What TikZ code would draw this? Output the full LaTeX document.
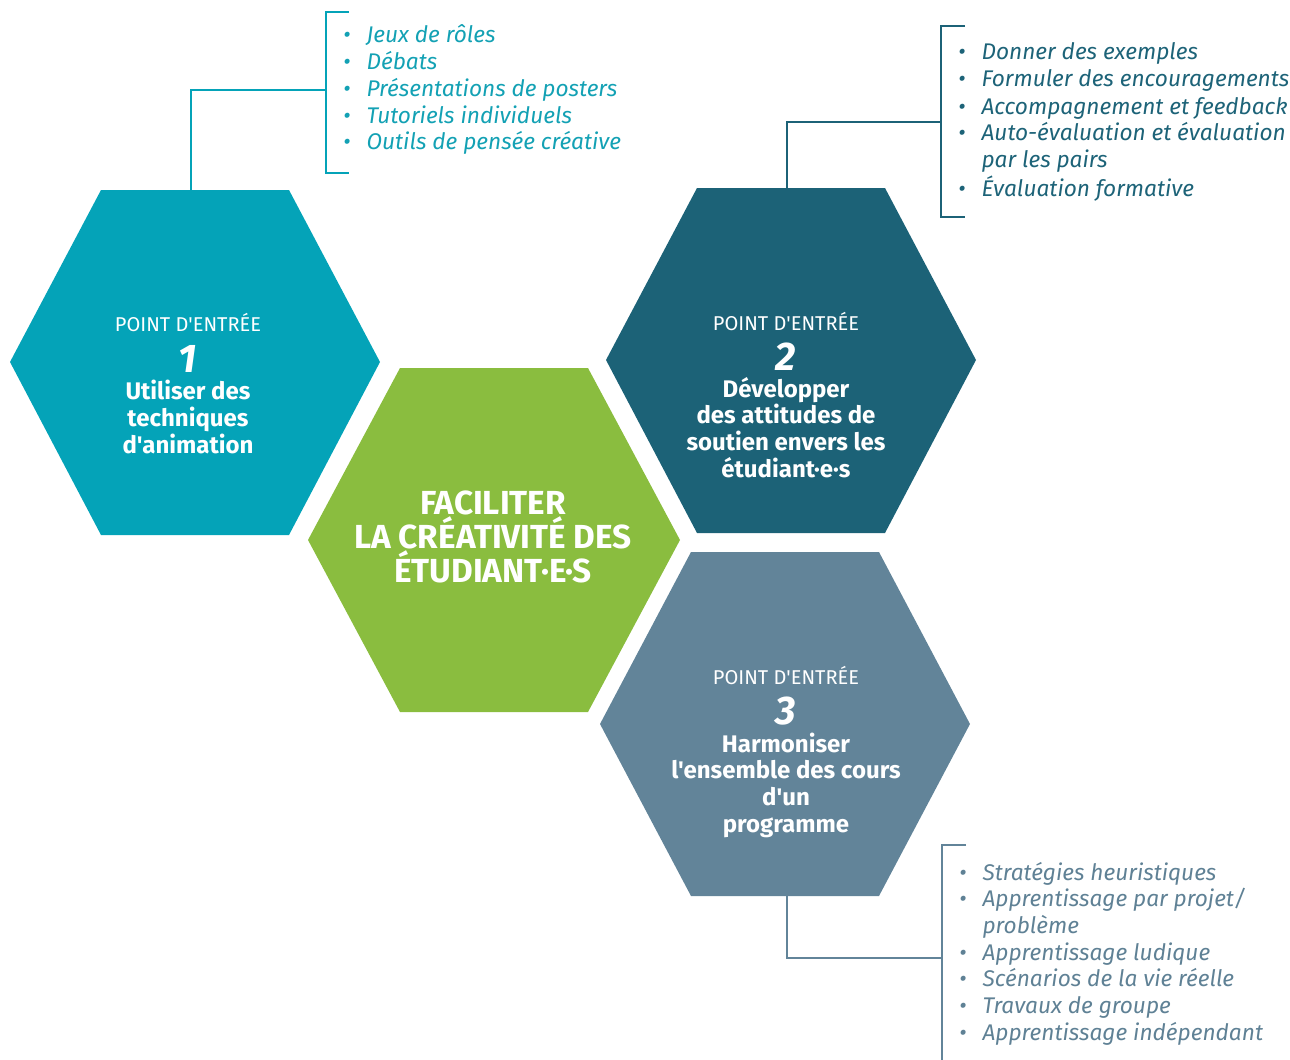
\documentclass[tikz,border=0pt]{standalone}
\usepackage{fontspec}
\setmainfont{Fira Sans}
\newfontfamily\hexfont{Fira Sans}
\definecolor{hexA}{HTML}{04A3B8}
\definecolor{hexB}{HTML}{1C6277}
\definecolor{hexG}{HTML}{8ABD3F}
\definecolor{hexC}{HTML}{628499}
\definecolor{txtA}{HTML}{13A1B4}
\definecolor{txtB}{HTML}{1D6378}
\definecolor{txtC}{HTML}{5F8195}
\begin{document}
\begin{tikzpicture}[x=0.75pt,y=-0.75pt,
  conn/.style={line width=1.7pt},
  lbl/.style={inner sep=0pt, text=white, font=\hexfont\fontsize{15}{18}\selectfont, anchor=base},
  num/.style={inner sep=0pt, text=white, font=\hexfont\bfseries\itshape\fontsize{30}{30}\selectfont, anchor=base},
  maintxt/.style={inner sep=0pt, text=white, align=center, font=\hexfont\bfseries\fontsize{18}{19.9}\selectfont, anchor=base},
  listtxt/.style={inner sep=0pt, anchor=base west, font=\itshape\fontsize{17}{20.25}\selectfont}]
\useasboundingbox (0,0) rectangle (1290,1060);

% hexagons
\fill[hexA] (101,190) -- (289,190) -- (380,362) -- (289,535) -- (101,535) -- (10,362) -- cycle;
\fill[hexB] (697,188) -- (885,188) -- (976,360) -- (885,533) -- (697,533) -- (606,360) -- cycle;
\fill[hexG] (400,368) -- (588,368) -- (680,540) -- (588,712) -- (400,712) -- (308,540) -- cycle;
\fill[hexC] (691,552) -- (879,552) -- (970,724) -- (879,896) -- (691,896) -- (600,724) -- cycle;

% hexagon texts (multi-line nodes are placed by their last baseline)
\node[lbl] (p1) at (188,331) {POINT D'ENTRÉE};
\node[num] (n1) at (188,372) {1};
\node[maintxt] (t1) at (188,453) {Utiliser des\\techniques\\d'animation};

\node[lbl] (p2) at (786,330) {POINT D'ENTRÉE};
\node[num] (n2) at (786,370) {2};
\node[maintxt] (t2) at (786,477) {Développer\\des attitudes de\\soutien envers les\\étudiant·e·s};

\node[inner sep=0pt, text=white, align=center, anchor=base,
      font=\hexfont\bfseries\fontsize{25}{25.5}\selectfont] (c) at (493,582)
      {FACILITER\\LA CRÉATIVITÉ DES\\ÉTUDIANT·E·S};

\node[lbl] (p3) at (786,684) {POINT D'ENTRÉE};
\node[num] (n3) at (786,724) {3};
\node[maintxt] (t3) at (786,832) {Harmoniser\\l'ensemble des cours\\d'un\\programme};

% lists
\node[listtxt, text=txtA] (L1) at (343,42) {\begin{tabular}[t]{@{}p{17.5pt}@{}l@{}}
•&Jeux de rôles\\
•&Débats\\
•&Présentations de posters\\
•&Tutoriels individuels\\
•&Outils de pensée créative
\end{tabular}};

\node[listtxt, text=txtB] (L2) at (958,60) {\begin{tabular}[t]{@{}p{17.5pt}@{}l@{}}
•&Donner des exemples\\
•&Formuler des encouragements\\
•&Accompagnement et feedback\\
•&Auto-évaluation et évaluation\\
&par les pairs\\
•&Évaluation formative
\end{tabular}};

\node[listtxt, text=txtC, font=\itshape\fontsize{17}{20}\selectfont] (L3) at (959,880) {\begin{tabular}[t]{@{}p{17.5pt}@{}l@{}}
•&Stratégies heuristiques\\
•&Apprentissage par projet/\\
&problème\\
•&Apprentissage ludique\\
•&Scénarios de la vie réelle\\
•&Travaux de groupe\\
•&Apprentissage indépendant
\end{tabular}};

% connectors and brackets
\coordinate (h1top) at (191,190);
\coordinate (b1) at (326,90);
\coordinate (b1t) at (349,12);
\coordinate (b1b) at (349,173);
\draw[conn, hexA] (h1top) |- (b1);
\draw[conn, hexA] (b1t) -| (b1) |- (b1b);

\coordinate (h2top) at (787,188);
\coordinate (b2) at (941,122);
\coordinate (b2t) at (965,26);
\coordinate (b2b) at (965,217);
\draw[conn, hexB] (h2top) |- (b2);
\draw[conn, hexB] (b2t) -| (b2) |- (b2b);

\coordinate (h3bot) at (787,896);
\coordinate (b3) at (942,958);
\coordinate (b3t) at (966,845);
\coordinate (b3b) at (942,1060);
\draw[conn, hexC] (h3bot) |- (b3);
\draw[conn, hexC] (b3t) -| (b3) -- (b3b);
\end{tikzpicture}
\end{document}
